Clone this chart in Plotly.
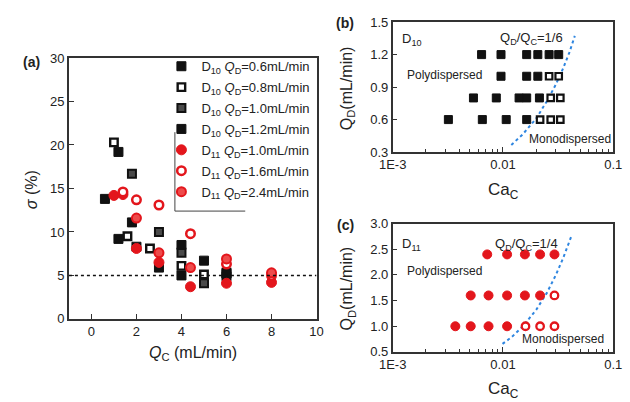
import plotly.graph_objects as go

W, H = 630, 402

# ---------------- Panel (a) data: sigma vs Q_C ----------------
a_d10_06_x = [0.6, 1.2, 2.0, 3.0, 4.0, 6.0]
a_d10_06_y = [13.8, 9.2, 8.3, 5.9, 5.0, 4.9]
a_d10_08_x = [1.0, 1.6, 2.6, 4.0, 5.0]
a_d10_08_y = [20.3, 9.5, 8.1, 6.1, 5.1]
a_d10_10_x = [1.8, 3.0, 4.0, 5.0, 6.0]
a_d10_10_y = [16.7, 10.0, 7.6, 4.1, 5.3]
a_d10_12_x = [1.2, 1.8, 4.0, 5.0, 6.0]
a_d10_12_y = [19.2, 11.1, 8.5, 6.7, 5.2]
a_d11_10_x = [1.0, 1.4, 2.0, 3.0, 4.4, 6.0, 8.0]
a_d11_10_y = [14.2, 14.3, 8.1, 6.5, 3.7, 4.1, 4.2]
a_d11_16_x = [1.4, 2.0, 3.0, 4.4, 6.0, 8.0]
a_d11_16_y = [14.6, 13.7, 13.1, 9.8, 6.3, 5.0]
a_d11_24_x = [2.0, 3.0, 4.4, 6.0, 8.0]
a_d11_24_y = [11.6, 7.6, 5.9, 6.9, 5.3]
a_threshold = 5
a_xticks = [0, 2, 4, 6, 8, 10]
a_yticks = [0, 5, 10, 15, 20, 25, 30]

# ---------------- Panel (b) data: D10 ----------------
b_poly_ca = [0.0032, 0.0065, 0.0107, 0.0164,
             0.0054, 0.0087, 0.0140, 0.0164, 0.0214,
             0.0096, 0.0164, 0.0207,
             0.0064, 0.0096, 0.0164, 0.0207, 0.0262, 0.0320]
b_poly_qd = [0.6, 0.6, 0.6, 0.6,
             0.8, 0.8, 0.8, 0.8, 0.8,
             1.0, 1.0, 1.0,
             1.2, 1.2, 1.2, 1.2, 1.2, 1.2]
b_mono_ca = [0.0217, 0.0271, 0.0331, 0.0271, 0.0331, 0.0262, 0.0320]
b_mono_qd = [0.6, 0.6, 0.6, 0.8, 0.8, 1.0, 1.0]
b_line_ca = [0.0119, 0.015, 0.02, 0.025, 0.03, 0.035, 0.04, 0.0448]
b_line_qd = [0.366, 0.46, 0.61, 0.77, 0.92, 1.07, 1.22, 1.373]
b_yticks = [0.3, 0.6, 0.9, 1.2, 1.5]

# ---------------- Panel (c) data: D11 ----------------
c_poly_ca = [0.0072, 0.0109, 0.0158, 0.0217, 0.0293,
             0.0051, 0.0074, 0.0109, 0.0158, 0.0217,
             0.0037, 0.0051, 0.0074, 0.0109]
c_poly_qd = [2.4, 2.4, 2.4, 2.4, 2.4,
             1.6, 1.6, 1.6, 1.6, 1.6,
             1.0, 1.0, 1.0, 1.0]
c_mono_ca = [0.0293, 0.0160, 0.0217, 0.0293]
c_mono_qd = [1.6, 1.0, 1.0, 1.0]
c_line_ca = [0.0099, 0.012, 0.015, 0.02, 0.025, 0.03, 0.035, 0.0418]
c_line_qd = [0.656, 0.79, 0.99, 1.32, 1.65, 1.99, 2.32, 2.762]
c_yticks = [0.5, 1.0, 1.5, 2.0, 2.5, 3.0]

log_ticks = [0.001, 0.01, 0.1]
log_ticktext = ["1E-3", "0.01", "0.1"]
log_minor = [2e-3, 3e-3, 4e-3, 5e-3, 6e-3, 7e-3, 8e-3, 9e-3,
             2e-2, 3e-2, 4e-2, 5e-2, 6e-2, 7e-2, 8e-2, 9e-2]

FONT = "Arial, Liberation Sans, sans-serif"
RED = "#e3161c"
BLK = "#111111"
BLUE = "#2f86e0"
TXT = "#222222"

def px2x(p):
    return p / W

def py2y(p):
    return 1 - p / H

fig = go.Figure()

leg = [
    ("D<sub>10</sub> <i>Q</i><sub>D</sub>=0.6mL/min", a_d10_06_x, a_d10_06_y, dict(symbol="square", color=BLK, size=9, line=dict(color=BLK, width=1))),
    ("D<sub>10</sub> <i>Q</i><sub>D</sub>=0.8mL/min", a_d10_08_x, a_d10_08_y, dict(symbol="square", color="white", size=7.5, line=dict(color=BLK, width=2.4))),
    ("D<sub>10</sub> <i>Q</i><sub>D</sub>=1.0mL/min", a_d10_10_x, a_d10_10_y, dict(symbol="square", color="#4a4a4a", size=8, line=dict(color=BLK, width=2))),
    ("D<sub>10</sub> <i>Q</i><sub>D</sub>=1.2mL/min", a_d10_12_x, a_d10_12_y, dict(symbol="square", color=BLK, size=9, line=dict(color=BLK, width=1))),
    ("D<sub>11</sub> <i>Q</i><sub>D</sub>=1.0mL/min", a_d11_10_x, a_d11_10_y, dict(symbol="circle", color=RED, size=10, line=dict(color=RED, width=1))),
    ("D<sub>11</sub> <i>Q</i><sub>D</sub>=1.6mL/min", a_d11_16_x, a_d11_16_y, dict(symbol="circle", color="white", size=8.5, line=dict(color=RED, width=2.5))),
    ("D<sub>11</sub> <i>Q</i><sub>D</sub>=2.4mL/min", a_d11_24_x, a_d11_24_y, dict(symbol="circle", color="#ee4b4b", size=9, line=dict(color=RED, width=2))),
]
for i, (name, xs, ys, mk) in enumerate(leg):
    fig.add_trace(go.Scatter(x=xs, y=ys, mode="markers", name=name, marker=mk,
                             xaxis="x", yaxis="y", showlegend=True, legendgroup="g%d" % i))

# panel b
fig.add_trace(go.Scatter(x=b_line_ca, y=b_line_qd, mode="lines", line=dict(color=BLUE, width=2, dash="dot"),
                         xaxis="x2", yaxis="y2", showlegend=False))
fig.add_trace(go.Scatter(x=b_poly_ca, y=b_poly_qd, mode="markers",
                         marker=dict(symbol="square", color=BLK, size=8, line=dict(color=BLK, width=1)),
                         xaxis="x2", yaxis="y2", showlegend=False))
fig.add_trace(go.Scatter(x=b_mono_ca, y=b_mono_qd, mode="markers",
                         marker=dict(symbol="square", color="white", size=6.5, line=dict(color=BLK, width=2.2)),
                         xaxis="x2", yaxis="y2", showlegend=False))
# panel c
fig.add_trace(go.Scatter(x=c_line_ca, y=c_line_qd, mode="lines", line=dict(color=BLUE, width=2, dash="dot"),
                         xaxis="x3", yaxis="y3", showlegend=False))
fig.add_trace(go.Scatter(x=c_poly_ca, y=c_poly_qd, mode="markers",
                         marker=dict(symbol="circle", color=RED, size=9, line=dict(color=RED, width=1)),
                         xaxis="x3", yaxis="y3", showlegend=False))
fig.add_trace(go.Scatter(x=c_mono_ca, y=c_mono_qd, mode="markers",
                         marker=dict(symbol="circle", color="white", size=7.5, line=dict(color=RED, width=2.3)),
                         xaxis="x3", yaxis="y3", showlegend=False))

axcommon = dict(showline=True, linecolor="#333333", linewidth=1.6, mirror=True, ticks="inside",
                ticklen=5, tickwidth=1.3, tickcolor="#333333", showgrid=False, zeroline=False,
                tickfont=dict(family=FONT, size=13, color=TXT))

xa = dict(axcommon, domain=[px2x(57), px2x(314)], range=[-1, 10], tickvals=a_xticks, anchor="y")
ya = dict(axcommon, domain=[py2y(324), py2y(53)], range=[0, 30], tickvals=a_yticks, anchor="x")

bx_dom = [px2x(393), px2x(622)]
xb = dict(axcommon, domain=bx_dom, type="log", range=[-3, -1], tickvals=log_ticks, ticktext=log_ticktext,
          anchor="y2", minor=dict(ticks="inside", ticklen=3, tickcolor="#333333", tickvals=log_minor))
yb = dict(axcommon, domain=[py2y(150.7), py2y(15.7)], range=[0.3, 1.5], tickvals=b_yticks,
          tickformat=".1f", anchor="x2")
xc = dict(axcommon, domain=bx_dom, type="log", range=[-3, -1], tickvals=log_ticks, ticktext=log_ticktext,
          anchor="y3", minor=dict(ticks="inside", ticklen=3, tickcolor="#333333", tickvals=log_minor))
yc = dict(axcommon, domain=[py2y(358.3), py2y(225)], range=[0.5, 3.0], tickvals=c_yticks,
          tickformat=".1f", anchor="x3")

def ann(text, x, y, size=13, angle=0, bold=False, xanchor="center"):
    if bold:
        text = "<b>" + text + "</b>"
    return dict(text=text, x=px2x(x), y=py2y(y), xref="paper", yref="paper", showarrow=False,
                xanchor=xanchor, yanchor="middle", textangle=angle,
                font=dict(family=FONT, size=size, color=TXT))

annotations = [
    ann("(a)", 18, 57, size=14, bold=True),
    ann("(b)", 344, 17, size=14, bold=True),
    ann("(c)", 344, 226, size=14, bold=True),
    ann("<i>σ</i> (%)", 19, 190, size=16, angle=-90),
    ann("<i>Q</i><sub>C</sub> (mL/min)", 186, 360, size=16),
    ann("Q<sub>D</sub>(mL/min)", 346, 84, size=16, angle=-90),
    ann("Ca<sub>C</sub>", 508, 191, size=17),
    ann("Q<sub>D</sub>(mL/min)", 346, 292, size=16, angle=-90),
    ann("Ca<sub>C</sub>", 508, 398, size=17),
    ann("D<sub>10</sub>", 401, 34, size=13, xanchor="left"),
    ann("Q<sub>D</sub>/Q<sub>C</sub>=1/6", 537, 33, size=13),
    ann("Polydispersed", 447, 71, size=12),
    ann("Monodispersed", 577, 137, size=12),
    ann("D<sub>11</sub>", 401, 247, size=13, xanchor="left"),
    ann("Q<sub>D</sub>/Q<sub>C</sub>=1/4", 532, 247, size=13),
    ann("Polydispersed", 447, 274, size=12),
    ann("Monodispersed", 570, 345, size=12),
]

shapes = [
    dict(type="line", xref="x", yref="y", x0=-1, x1=10, y0=a_threshold, y1=a_threshold,
         line=dict(color="#111111", width=1.4, dash="dot")),
    dict(type="line", xref="paper", yref="paper", x0=px2x(167), x1=px2x(167), y0=py2y(130), y1=py2y(212),
         line=dict(color="#444444", width=1)),
    dict(type="line", xref="paper", yref="paper", x0=px2x(167), x1=px2x(240), y0=py2y(212), y1=py2y(212),
         line=dict(color="#444444", width=1)),
]

fig.update_layout(
    width=W, height=H, margin=dict(l=0, r=0, t=0, b=0),
    paper_bgcolor="white", plot_bgcolor="white",
    xaxis=xa, yaxis=ya, xaxis2=xb, yaxis2=yb, xaxis3=xc, yaxis3=yc,
    showlegend=True,
    legend=dict(x=px2x(153), y=py2y(46), xanchor="left", yanchor="top",
                bgcolor="rgba(0,0,0,0)", borderwidth=0, tracegroupgap=1,
                font=dict(family=FONT, size=13, color=TXT), itemwidth=30),
    annotations=annotations, shapes=shapes,
)

fig.write_html("out.html")
